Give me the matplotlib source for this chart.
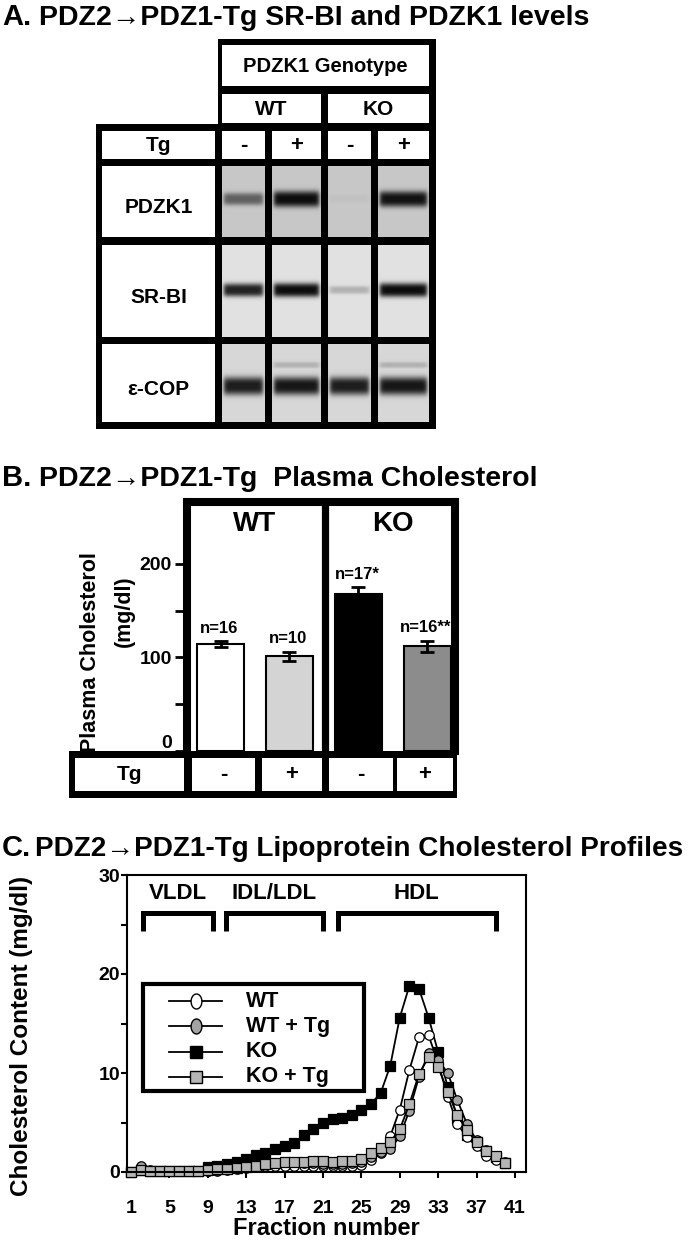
import numpy as np
import matplotlib
matplotlib.use('Agg')
import matplotlib.pyplot as plt
import matplotlib.transforms as mtrans
from matplotlib.patches import Rectangle
from matplotlib.path import Path

W, H = 693, 1243

# ---- panel A : western blot (lanes WT-, WT+, KO-, KO+) ----
groups_a = ['WT', 'KO']
tg_signs = ['-', '+', '-', '+']
blot_rows = ['PDZK1', 'SR-BI', 'ε-COP']
band_pdzk1 = [0.55, 1.0, 0.03, 0.97]
band_srbi = [0.9, 1.0, 0.22, 1.0]
band_ecop = [0.92, 0.95, 0.92, 0.95]
band_ecop_upper = [0.0, 0.18, 0.0, 0.18]

# ---- panel B : plasma cholesterol (mg/dl) ----
groups_b = ['WT', 'KO']
chol_mean = [114, 101, 168, 112]
chol_sem = [3, 5, 7, 6]
n_labels = ['n=16', 'n=10', 'n=17*', 'n=16**']
bar_colors = ['white', '#d4d4d4', 'black', '#8c8c8c']

# ---- panel C : lipoprotein cholesterol profiles (mg/dl) ----
fractions = list(range(1, 41))
wt = [0.0, 0.3, 0.1, 0.1, 0.1, 0.1, 0.1, 0.1, 0.1, 0.15, 0.2, 0.3, 0.4, 0.5,
      0.6, 0.6, 0.65, 0.65, 0.6, 0.6, 0.6, 0.6, 0.6, 0.65, 0.75, 1.2, 1.95,
      3.6, 6.3, 10.3, 13.6, 13.8, 11.0, 7.6, 4.85, 3.5, 2.6, 1.6, 1.2, 0.9]
wt_tg = [0.0, 0.6, 0.2, 0.15, 0.15, 0.15, 0.15, 0.15, 0.1, 0.2, 0.3, 0.4, 0.5,
         0.6, 0.8, 0.9, 1.0, 1.0, 0.9, 0.9, 0.8, 0.8, 0.8, 0.9, 1.0, 1.55, 2.0,
         2.3, 3.6, 6.2, 9.6, 12.0, 11.3, 10.0, 7.25, 4.85, 3.2, 2.2, 1.6, 1.0]
ko = [0.0, 0.2, 0.15, 0.15, 0.15, 0.15, 0.15, 0.15, 0.5, 0.6, 0.8, 1.0, 1.3,
      1.7, 1.95, 2.3, 2.6, 2.95, 3.7, 4.3, 5.0, 5.4, 5.5, 5.8, 6.3, 6.9, 7.95,
      10.7, 15.6, 18.8, 18.5, 15.6, 12.1, 8.6, 5.5, 3.7, 3.0, 2.1, 1.5, 0.95]
ko_tg = [0.0, 0.2, 0.1, 0.1, 0.1, 0.1, 0.1, 0.1, 0.2, 0.3, 0.3, 0.4, 0.5, 0.6,
         0.8, 0.9, 1.0, 1.05, 1.05, 1.1, 1.1, 1.05, 1.1, 1.15, 1.3, 1.95, 2.4,
         3.05, 4.3, 6.85, 9.9, 11.6, 10.6, 8.1, 5.75, 4.2, 3.05, 2.15, 1.6, 0.95]
regions = ['VLDL', 'IDL/LDL', 'HDL']
region_spans = [(2.25, 9.55), (10.9, 21.0), (22.55, 39.0)]

plt.rcParams['font.family'] = ['Liberation Sans', 'DejaVu Sans']
plt.rcParams['font.weight'] = 'bold'

fig = plt.figure(figsize=(W / 100, H / 100), dpi=100)
ov = fig.add_axes([0, 0, 1, 1])
ov.axis('off')


def px_rect(x0, y0, x1, y1):
    return [x0 / W, 1 - y1 / H, (x1 - x0) / W, (y1 - y0) / H]


def rect(x0, y0, x1, y1, c):
    ov.add_patch(Rectangle((x0, y0), x1 - x0, y1 - y0, facecolor=c,
                           edgecolor='none', zorder=1))


def txt(x, y, s, size, ha='center', **kw):
    ov.text(x, y, s, fontsize=size, fontweight='bold', ha=ha, va='center',
            zorder=4, **kw)


def blot(x0, x1, y0, y1, bg, bands):
    h, w = int(y1 - y0), int(x1 - x0)
    yy = np.arange(h)[:, None] + y0 + 0.5
    xx = np.arange(w)[None, :] + x0 + 0.5
    xprof = 1 / (1 + np.exp(-(xx - x0 - 2) / 1.2)) / (1 + np.exp((xx - x1 + 2) / 1.2))
    dark = np.zeros((h, w))
    for yc, sig, amp in bands:
        dark = dark + amp * np.exp(-np.abs((yy - yc) / sig) ** 3) * xprof
    img = bg - (bg - 0.05) * np.clip(dark, 0, 1)
    ov.imshow(img, cmap='gray', vmin=0, vmax=1, extent=(x0, x1, y1, y0),
              aspect='auto', interpolation='bilinear', zorder=2)


# ================= Panel A =================
txt(2, 17, 'A.', 21, ha='left')
txt(39, 18, 'PDZ2→PDZ1-Tg SR-BI and PDZK1 levels', 20.5, ha='left')

lane_x = [(222, 265), (272, 321), (328, 371), (378, 429)]
rect(218, 39, 436, 124, 'black')
rect(96, 124, 436, 429, 'black')
rect(222, 45, 429, 86, 'white')
txt(325.5, 66, 'PDZK1 Genotype', 14.5)
for (x0, x1), g in zip([(222, 321), (328, 429)], groups_a):
    rect(x0, 94, x1, 123, 'white')
    txt((x0 + x1) / 2, 109, g, 15)
rect(102, 131, 215, 159, 'white')
txt(158.5, 145, 'Tg', 15)
for (x0, x1), s in zip(lane_x, tg_signs):
    rect(x0, 131, x1, 159, 'white')
    txt((x0 + x1) / 2, 145, s, 16)

row_y = [(166, 237), (245, 337), (344, 422)]
for (y0, y1), name in zip(row_y, blot_rows):
    rect(102, y0, 215, y1, 'white')
    txt(158.5, (y0 + y1) / 2 + 6, name, 15)

for i, (x0, x1) in enumerate(lane_x):
    a = band_pdzk1[i]
    blot(x0, x1, 166, 237, 0.78, [(199, 4 + 4 * a, a)])
    a = band_srbi[i]
    blot(x0, x1, 245, 337, 0.88, [(290, 3 + 4 * a, a)])
    blot(x0, x1, 344, 422, 0.84, [(386, 9, band_ecop[i]),
                                  (365, 3, band_ecop_upper[i])])

# ================= Panel B =================
txt(2, 478, 'B.', 21, ha='left')
txt(39, 479, 'PDZ2→PDZ1-Tg  Plasma Cholesterol', 20.5, ha='left')
txt(91, 652, 'Plasma Cholesterol', 15.5, rotation=90)
txt(124, 611, '(mg/dl)', 15.5, rotation=90)

axb = fig.add_axes(px_rect(187, 502, 455, 751))
axb.set_facecolor('none')
xb = np.arange(len(chol_mean))
axb.bar(xb, chol_mean, width=0.68, color=bar_colors, edgecolor='black',
        linewidth=1.5, zorder=2)
axb.errorbar(xb, chol_mean, yerr=chol_sem, fmt='none', ecolor='black',
             elinewidth=2, capsize=5, capthick=2, zorder=3)
for x, m, s, lab in zip(xb, chol_mean, chol_sem, n_labels):
    axb.annotate(lab, (x, m + s), xytext=(-1, 4), textcoords='offset points',
                 ha='center', va='bottom', fontsize=12, fontweight='bold')
for i, g in enumerate(groups_b):
    axb.text(2 * i + 0.5, 242, g, ha='center', va='center', fontsize=20,
             fontweight='bold')
axb.axvline(1.52, color='black', lw=5.2)
axb.set_xlim(-0.486, 3.4)
axb.set_ylim(0, 266)
axb.set_xticks([])
axb.set_yticks([0, 100, 200])
axb.set_yticks([50, 150], minor=True)
axb.tick_params(axis='y', which='both', direction='out', length=9, width=2,
                labelsize=14, pad=2)
for side in ['left', 'top', 'right']:
    axb.spines[side].set_linewidth(5.8)
    axb.spines[side].set_capstyle('projecting')
axb.spines['bottom'].set_visible(False)
# the zero label sits a little above its tick, clear of the Tg row
lab0 = axb.yaxis.get_major_ticks()[0].label1
lab0.set_transform(lab0.get_transform() +
                   mtrans.ScaledTranslation(0, 0.09, fig.dpi_scale_trans))

rect(69, 751, 457, 798, 'black')
tg_cells = [(75, 184), (192, 255), (262, 322), (329, 393), (397, 453)]
for (x0, x1), s in zip(tg_cells, ['Tg'] + tg_signs):
    rect(x0, 758, x1, 791, 'white')
    txt((x0 + x1) / 2, 774.5, s, 15 if s == 'Tg' else 16)

# ================= Panel C =================
txt(2, 848, 'C.', 21, ha='left')
txt(35, 849, 'PDZ2→PDZ1-Tg Lipoprotein Cholesterol Profiles', 20.1, ha='left')

axc = fig.add_axes(px_rect(127, 875, 526, 1172))
axc.set_facecolor('none')
series = [
    (ko, 's', 'black'),
    (wt, 'o', 'white'),
    (wt_tg, 'o', '#a3a3a3'),
    (ko_tg, 's', '#b5b5b5'),
]
for vals, mk, fc in series:
    axc.plot(fractions, vals, color='black', lw=1.3, marker=mk, ms=6.8,
             mfc=fc, mec='black', mew=0.9, clip_on=False)
axc.set_xlim(0.583, 42.15)
axc.set_ylim(0, 30)
axc.set_xticks(range(1, 42, 4))
axc.set_yticks([0, 10, 20, 30])
axc.set_yticks([5, 15, 25], minor=True)
axc.tick_params(axis='both', which='both', direction='out', length=4, width=1.5,
                labelsize=14)
axc.tick_params(axis='x', pad=16)
axc.tick_params(axis='y', pad=1)
for sp in axc.spines.values():
    sp.set_linewidth(1.5)
axc.set_xlabel('Fraction number', fontsize=17, fontweight='bold', labelpad=0)
axc.set_ylabel('Cholesterol Content (mg/dl)', fontsize=17.5, fontweight='bold')
axc.yaxis.set_label_coords(-0.235, 0.458)

for (a, b), name in zip(region_spans, regions):
    axc.plot([a, a, b, b], [24.3, 26.2, 26.2, 24.3], color='black', lw=3.6,
             solid_joinstyle='miter', solid_capstyle='butt')
    axc.text((a + b) / 2, 28.1, name, ha='center', va='center', fontsize=16,
             fontweight='bold')

# legend box
t = np.linspace(0, 2 * np.pi, 60)
ellipse = Path(np.column_stack([0.72 * np.cos(t), np.sin(t)]), closed=True)
leg_labels = ['WT', 'WT + Tg', 'KO', 'KO + Tg']
leg_styles = [(ellipse, 'white', 10.8), (ellipse, '#a3a3a3', 10.8),
              ('s', 'black', 8.6), ('s', '#b5b5b5', 8.6)]
ov.add_patch(Rectangle((143, 984), 221, 107, facecolor='white', lw=3,
                       ec='black', zorder=1))
for i, (lab, (mk, fc, ms)) in enumerate(zip(leg_labels, leg_styles)):
    y = 1001 + 25.3 * i
    ov.plot([169, 222], [y, y], color='black', lw=1.3, zorder=3)
    ov.plot([195.5], [y], marker=mk, ms=ms, mfc=fc, mec='black', mew=1.0,
            zorder=3)
    txt(246, y, lab, 15.5, ha='left')

ov.set_xlim(0, W)
ov.set_ylim(H, 0)

fig.savefig('out.png', dpi=100)
